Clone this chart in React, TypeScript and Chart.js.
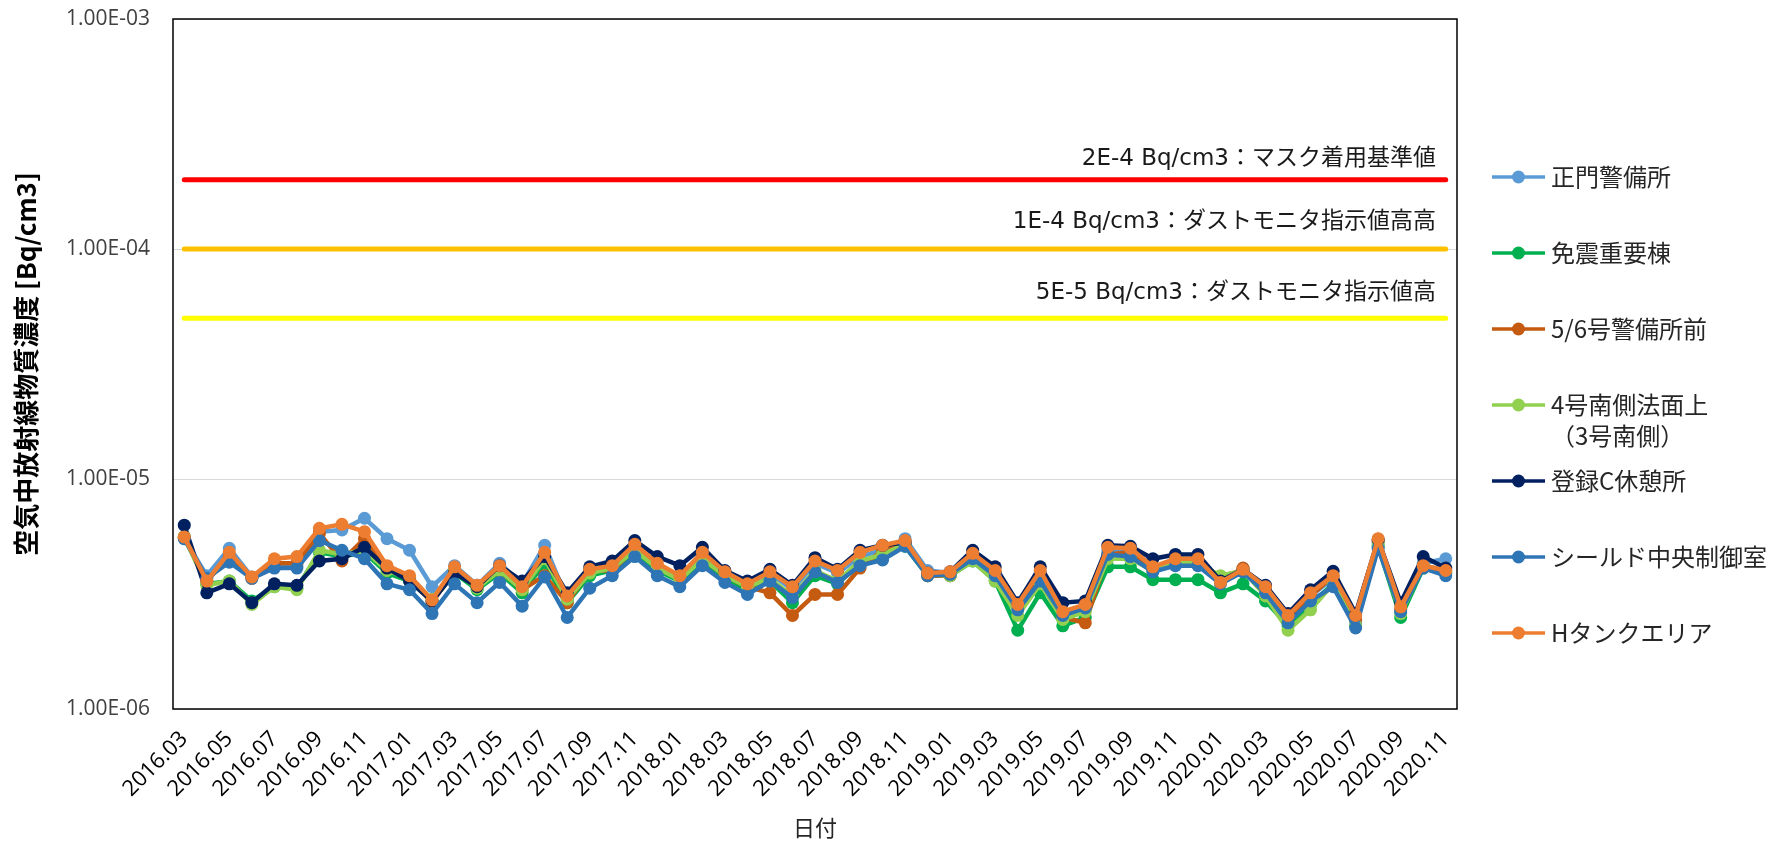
import React, { useEffect, useRef } from 'react';
import { Chart, registerables } from 'chart.js';

Chart.register(...registerables);

// ---------- data ----------
const categories = [
  '2016.03', '2016.04', '2016.05', '2016.06', '2016.07', '2016.08', '2016.09', '2016.10', '2016.11', '2016.12',
  '2017.01', '2017.02', '2017.03', '2017.04', '2017.05', '2017.06', '2017.07', '2017.08', '2017.09', '2017.10', '2017.11', '2017.12',
  '2018.01', '2018.02', '2018.03', '2018.04', '2018.05', '2018.06', '2018.07', '2018.08', '2018.09', '2018.10', '2018.11', '2018.12',
  '2019.01', '2019.02', '2019.03', '2019.04', '2019.05', '2019.06', '2019.07', '2019.08', '2019.09', '2019.10', '2019.11', '2019.12',
  '2020.01', '2020.02', '2020.03', '2020.04', '2020.05', '2020.06', '2020.07', '2020.08', '2020.09', '2020.10', '2020.11',
];

const yTicks = [1e-6, 1e-5, 1e-4, 1e-3];

// values in units of 1E-6 Bq/cm3
const UNIT = 1e-6;

const seimon = [
  5.5, 3.8, 5.0, 3.75, 4.3, 4.2, 5.9, 6.0, 6.75, 5.5,
  4.9, 3.4, 4.2, 3.45, 4.3, 3.5, 5.15, 3.0, 4.0, 4.1,
  5.0, 4.1, 3.7, 4.6, 3.8, 3.4, 3.9, 3.3, 4.3, 3.9,
  4.6, 4.9, 5.5, 4.0, 3.9, 4.6, 3.9, 2.8, 3.9, 2.6,
  2.8, 4.9, 4.9, 4.1, 4.4, 4.4, 3.6, 4.0, 3.3, 2.45,
  3.1, 3.7, 2.4, 5.3, 2.7, 4.3, 4.5,
];
const menshin = [
  5.6, 3.5, 3.6, 2.95, 3.4, 3.35, 4.8, 4.6, 4.8, 3.9,
  3.6, 2.95, 3.9, 3.3, 3.9, 3.2, 4.3, 2.9, 3.8, 4.0,
  4.8, 4.0, 3.6, 4.4, 3.7, 3.3, 3.6, 2.9, 3.8, 3.5,
  4.3, 4.6, 5.1, 3.8, 3.8, 4.4, 3.6, 2.2, 3.2, 2.3,
  2.5, 4.15, 4.15, 3.65, 3.65, 3.65, 3.2, 3.5, 2.95, 2.3,
  2.85, 3.5, 2.3, 5.1, 2.5, 4.1, 3.9,
];
const keibi56 = [
  5.6, 3.6, 4.6, 3.7, 4.3, 4.3, 5.8, 4.4, 5.5, 4.1,
  3.7, 2.9, 4.0, 3.4, 4.0, 3.3, 3.8, 2.9, 4.0, 4.0,
  5.0, 4.1, 3.7, 4.5, 3.8, 3.4, 3.2, 2.55, 3.15, 3.15,
  4.1, 4.9, 5.3, 3.8, 3.8, 4.6, 3.9, 2.75, 3.8, 2.5,
  2.37, 4.7, 4.8, 4.0, 4.4, 4.4, 3.6, 4.1, 3.3, 2.5,
  3.1, 3.8, 2.45, 5.4, 2.7, 4.2, 4.0,
];
const minami4 = [
  5.6, 3.45, 3.6, 2.85, 3.4, 3.3, 4.9, 4.7, 4.9, 4.0,
  3.7, 3.0, 4.0, 3.35, 4.0, 3.3, 4.5, 3.0, 3.9, 4.1,
  4.9, 4.1, 3.65, 4.5, 3.8, 3.4, 3.7, 3.1, 4.0, 3.6,
  4.4, 4.7, 5.2, 3.85, 3.8, 4.4, 3.6, 2.55, 3.5, 2.45,
  2.65, 4.5, 4.5, 4.0, 4.3, 4.3, 3.8, 4.0, 3.1, 2.2,
  2.7, 3.5, 2.3, 5.2, 2.6, 4.2, 3.9,
];
const tourokuC = [
  6.3, 3.2, 3.5, 2.9, 3.5, 3.45, 4.4, 4.5, 5.05, 4.1,
  3.6, 2.95, 3.9, 3.4, 4.2, 3.6, 4.6, 3.2, 4.15, 4.4,
  5.4, 4.6, 4.2, 5.05, 4.0, 3.6, 4.05, 3.45, 4.55, 4.05,
  4.9, 5.15, 5.3, 3.9, 3.95, 4.9, 4.15, 2.9, 4.15, 2.9,
  2.95, 5.15, 5.1, 4.5, 4.7, 4.7, 3.6, 4.05, 3.45, 2.6,
  3.3, 3.97, 2.6, 5.45, 2.9, 4.6, 4.1,
];
const shield = [
  5.5, 3.7, 4.35, 3.7, 4.1, 4.1, 5.4, 4.9, 4.5, 3.5,
  3.3, 2.6, 3.5, 2.9, 3.55, 2.8, 3.75, 2.5, 3.35, 3.8,
  4.6, 3.8, 3.4, 4.2, 3.55, 3.15, 3.6, 3.05, 3.95, 3.55,
  4.2, 4.45, 5.1, 3.8, 3.85, 4.5, 3.8, 2.7, 3.6, 2.55,
  2.75, 4.7, 4.6, 3.95, 4.2, 4.2, 3.5, 3.95, 3.2, 2.37,
  2.95, 3.4, 2.25, 5.0, 2.65, 4.1, 3.8,
];
const hTank = [
  5.6, 3.6, 4.8, 3.75, 4.5, 4.6, 6.1, 6.35, 5.9, 4.2,
  3.8, 2.98, 4.15, 3.45, 4.2, 3.4, 4.8, 3.1, 4.05, 4.2,
  5.2, 4.3, 3.8, 4.8, 3.95, 3.5, 3.95, 3.4, 4.4, 4.0,
  4.8, 5.15, 5.4, 3.9, 3.95, 4.75, 4.0, 2.85, 4.0, 2.65,
  2.85, 5.05, 5.0, 4.15, 4.5, 4.5, 3.55, 4.05, 3.4, 2.55,
  3.2, 3.8, 2.55, 5.5, 2.78, 4.2, 4.0,
];

const seriesNames = [
  '正門警備所',
  '免震重要棟',
  '5/6号警備所前',
  '4号南側法面上\n（3号南側）',
  '登録C休憩所',
  'シールド中央制御室',
  'Hタンクエリア',
];
const seriesData = [seimon, menshin, keibi56, minami4, tourokuC, shield, hTank];
const seriesColors = ['#5B9BD5', '#00B050', '#C55A11', '#92D050', '#002060', '#2E75B6', '#ED7D31'];

const refValues = [2e-4, 1e-4, 5e-5];
const refLabels = [
  '2E-4 Bq/cm3：マスク着用基準値',
  '1E-4 Bq/cm3：ダストモニタ指示値高高',
  '5E-5 Bq/cm3：ダストモニタ指示値高',
];
const refColors = ['#FF0000', '#FFC000', '#FFFF00'];

// ---------- helpers ----------
const LATIN = '"Open Sans", "Noto Sans CJK JP", sans-serif';
const CJK = '"Noto Sans CJK JP", "Open Sans", sans-serif';

const fmtExp = (v: number) => {
  const e = Math.round(Math.log10(v));
  const m = v / Math.pow(10, e);
  const sign = e < 0 ? '-' : '+';
  return `${m.toFixed(2)}E${sign}${String(Math.abs(e)).padStart(2, '0')}`;
};

const refLabelLift = [21, 27, 25];

const overlayPlugin = {
  id: 'overlay',
  beforeDatasetsDraw(chart: any) {
    const { ctx, chartArea: a } = chart;
    ctx.save();
    ctx.strokeStyle = '#000000';
    ctx.lineWidth = 1.5;
    ctx.strokeRect(a.left, a.top, a.right - a.left, a.bottom - a.top);
    ctx.restore();
  },
  afterDatasetsDraw(chart: any) {
    const { ctx, chartArea: a, scales } = chart;
    ctx.save();
    // reference labels
    ctx.font = '23px "DejaVu Sans", "Noto Sans CJK JP", sans-serif';
    ctx.fillStyle = '#1a1a1a';
    ctx.textAlign = 'right';
    ctx.textBaseline = 'middle';
    refLabels.forEach((t, k) => {
      const y = scales.y.getPixelForValue(refValues[k]);
      ctx.fillText(t, a.right - 21, y - refLabelLift[k]);
    });
    // legend
    const lx0 = 1492;
    const lx1 = 1545;
    const tx = 1551;
    ctx.textAlign = 'left';
    ctx.font = '24px ' + CJK;
    seriesNames.forEach((name, k) => {
      const y = 177 + 76 * k;
      const c = seriesColors[k];
      ctx.strokeStyle = c;
      ctx.lineWidth = 3.5;
      ctx.beginPath();
      ctx.moveTo(lx0, y);
      ctx.lineTo(lx1, y);
      ctx.stroke();
      ctx.fillStyle = c;
      ctx.beginPath();
      ctx.arc((lx0 + lx1) / 2, y, 6.5, 0, Math.PI * 2);
      ctx.fill();
      ctx.fillStyle = '#262626';
      name.split('\n').forEach((line, j) => {
        ctx.fillText(line, tx, y + 31 * j);
      });
    });
    ctx.restore();
  },
};

export default function App() {
  const canvasRef = useRef<HTMLCanvasElement>(null);

  useEffect(() => {
    const canvas = canvasRef.current;
    if (!canvas) return;

    const refSets = refValues.map((v, k) => ({
      label: refLabels[k],
      data: categories.map(() => v),
      borderColor: refColors[k],
      backgroundColor: refColors[k],
      borderWidth: 5,
      borderCapStyle: 'round' as const,
      pointRadius: 0,
      order: 20 + k,
    }));

    const seriesSets = seriesData.map((arr, k) => ({
      label: seriesNames[k],
      data: arr.map((v) => v * UNIT),
      borderColor: seriesColors[k],
      backgroundColor: seriesColors[k],
      pointBackgroundColor: seriesColors[k],
      pointBorderColor: seriesColors[k],
      borderWidth: 4.5,
      pointRadius: 6.5,
      pointBorderWidth: 0,
      tension: 0,
      order: 6 - k,
    }));

    const chart = new Chart(canvas, {
      type: 'line',
      data: { labels: categories, datasets: [...refSets, ...seriesSets] as any },
      plugins: [overlayPlugin],
      options: {
        responsive: false,
        animation: false,
        devicePixelRatio: 1,
        layout: { padding: { left: 0, right: 324, top: 19, bottom: 0 } },
        plugins: {
          legend: { display: false },
          tooltip: { enabled: false },
        },
        scales: {
          x: {
            type: 'category',
            offset: true,
            afterFit: (s: any) => {
              s.height = 133;
            },
            grid: { display: false, drawTicks: false },
            border: { display: false },
            ticks: {
              autoSkip: false,
              minRotation: 45,
              maxRotation: 45,
              padding: 17,
              color: '#000000',
              font: { size: 22, family: LATIN },
              callback: (_v: any, i: number) => (i % 2 === 0 ? categories[i] : ''),
            },
            title: {
              display: true,
              text: '日付',
              color: '#262626',
              font: { size: 22, family: CJK },
              padding: { top: 0, bottom: 1 },
            },
          },
          y: {
            type: 'logarithmic',
            min: 1e-6,
            max: 1e-3,
            afterBuildTicks: (s: any) => {
              s.ticks = yTicks.map((v) => ({ value: v }));
            },
            afterFit: (s: any) => {
              s.width = 173;
              s.paddingTop = 0;
              s.paddingBottom = 0;
            },
            grid: { color: '#D9D9D9', lineWidth: 1, drawTicks: false },
            border: { display: false },
            ticks: {
              padding: 23,
              color: '#404040',
              font: { size: 21, family: LATIN },
              callback: (v: any) => fmtExp(Number(v)),
            },
            title: {
              display: true,
              text: '空気中放射線物質濃度 [Bq/cm3]',
              color: '#000000',
              font: { size: 26, weight: 'bold', family: CJK },
              padding: { top: 11, bottom: 0 },
            },
          },
        },
      },
    });

    return () => chart.destroy();
  }, []);

  return (
    <div style={{ position: 'absolute', left: 0, top: 0, width: 1781, height: 842, background: '#ffffff' }}>
      <canvas ref={canvasRef} width={1781} height={842} style={{ display: 'block' }} />
    </div>
  );
}
